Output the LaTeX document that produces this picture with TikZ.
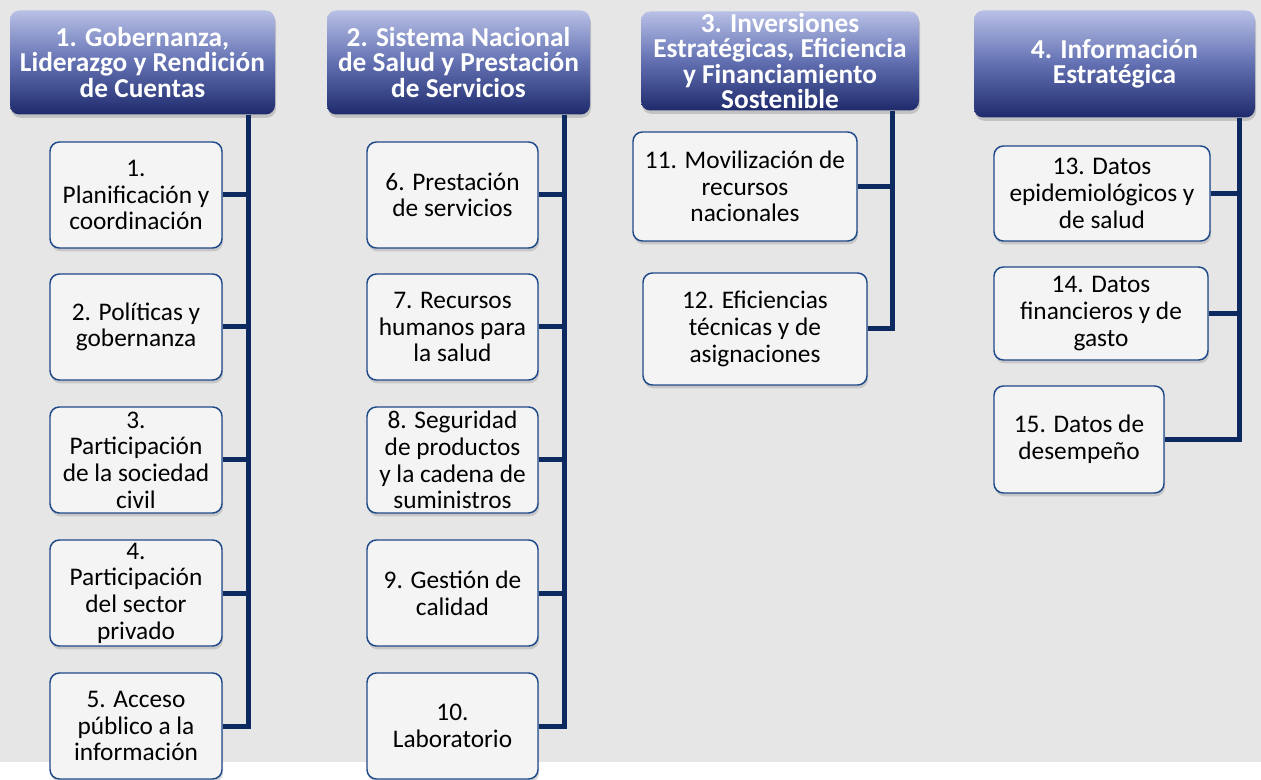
\documentclass[tikz,border=0pt]{standalone}
\usepackage{fontspec}
\setmainfont{Carlito}
\usepackage{tikz}
\usetikzlibrary{calc,shapes,arrows,shadows}

\definecolor{navy}{HTML}{0C2A5F}
\definecolor{boxline}{HTML}{1F4A8A}
\definecolor{boxfill}{HTML}{F4F4F4}
\definecolor{headtop}{HTML}{B8C0E6}
\definecolor{headmid}{HTML}{6270B2}
\definecolor{headbot}{HTML}{1E2A6C}
\definecolor{backgr}{HTML}{E6E6E6}

\tikzset{
    head/.style={rounded corners=7pt, top color=headtop, bottom color=headbot,
        middle color=headmid, text=white, align=center, inner sep=0pt,
        font=\fontsize{20.5}{19}\selectfont\bfseries,
        drop shadow={opacity=0.35, shadow xshift=0.8pt, shadow yshift=-2.5pt}},
    box/.style={rounded corners=7pt, draw=boxline, line width=1.1pt, fill=boxfill,
        align=center, inner sep=0pt, font=\fontsize{19}{20}\selectfont,
        drop shadow={opacity=0.3, shadow xshift=0.8pt, shadow yshift=-2.5pt}},
    trunk/.style={navy, line width=3.75pt, line join=miter}
}

\begin{document}
\begin{tikzpicture}[x=0.75pt, y=-0.75pt]
    \useasboundingbox (0,0) rectangle (1261,780);
    \fill[backgr] (0,0) rectangle (1261,762);

    \node[head, minimum width=198.75pt, minimum height=78pt] (h1) at (142.5,62.5)
        {1. Gobernanza,\\Liderazgo y Rendición\\de Cuentas};
    \node[head, minimum width=197.25pt, minimum height=78pt] (h2) at (458.5,62.5)
        {2. Sistema Nacional\\de Salud y Prestación\\de Servicios};
    \node[head, minimum width=208.5pt, minimum height=74.25pt] (h3) at (780,61)
        {3. Inversiones\\Estratégicas, Eficiencia\\y Financiamiento\\Sostenible};
    \node[head, minimum width=210.75pt, minimum height=80.25pt] (h4) at (1114.5,64)
        {4. Información\\Estratégica};

    \coordinate (t1) at (248,0);
    \coordinate (t2) at (564,0);
    \coordinate (t3) at (892,0);
    \coordinate (t4) at (1239,0);

    \foreach \n/\y/\t in {1/195/{1.\\Planificación y\\coordinación},
        2/327/{2. Políticas y\\gobernanza},
        3/460/{3.\\Participación\\de la sociedad\\civil},
        4/593/{4.\\Participación\\del sector\\privado},
        5/726/{5. Acceso\\público a la\\información}}
    \node[box, minimum width=129pt, minimum height=79.5pt] (b\n) at (136,\y) {\t};

    \foreach \n/\y/\t in {6/195/{6. Prestación\\de servicios},
        7/327/{7. Recursos\\humanos para\\la salud},
        8/460/{8. Seguridad\\de productos\\y la cadena de\\suministros},
        9/593/{9. Gestión de\\calidad},
        10/726/{10.\\Laboratorio}}
    \node[box, minimum width=128.25pt, minimum height=79.5pt] (b\n) at (452.5,\y) {\t};

    \node[box, minimum width=168pt, minimum height=81.75pt] (b11) at (745,186.5)
        {11. Movilización de\\recursos\\nacionales};
    \node[box, minimum width=168pt, minimum height=84pt] (b12) at (755,329)
        {12. Eficiencias\\técnicas y de\\asignaciones};

    \node[box, minimum width=162pt, minimum height=71.25pt] (b13) at (1102,193.5)
        {13. Datos\\epidemiológicos y\\de salud};
    \node[box, minimum width=160.5pt, minimum height=69.75pt] (b14) at (1101,313.5)
        {14. Datos\\financieros y de\\gasto};
    \node[box, minimum width=127.5pt, minimum height=80.25pt] (b15) at (1079,439.5)
        {15. Datos de\\desempeño};

    \draw[trunk] (h1.south -| t1) |- (b5.east);
    \foreach \i in {1,...,4}
        \draw[trunk] (b\i.east) -- (b\i.east -| t1);
    \draw[trunk] (h2.south -| t2) |- (b10.east);
    \foreach \i in {6,...,9}
        \draw[trunk] (b\i.east) -- (b\i.east -| t2);
    \draw[trunk] (h3.south -| t3) |- (b12.east);
    \draw[trunk] (b11.east) -- (b11.east -| t3);
    \draw[trunk] (h4.south -| t4) |- (b15.east);
    \foreach \i in {13,14}
        \draw[trunk] (b\i.east) -- (b\i.east -| t4);
\end{tikzpicture}
\end{document}
